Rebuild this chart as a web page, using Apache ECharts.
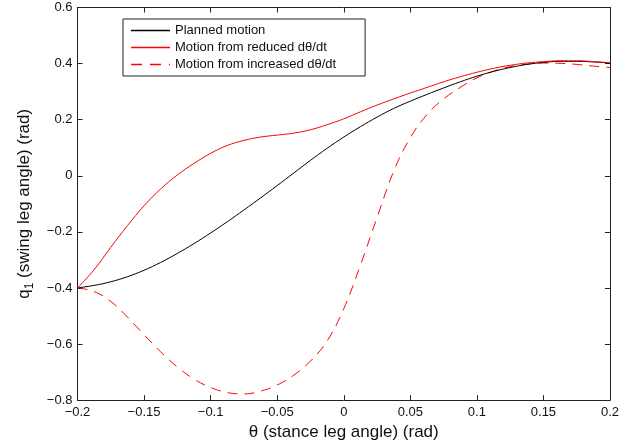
<!DOCTYPE html>
<html>
<head>
<meta charset="utf-8">
<script src="https://cdn.jsdelivr.net/npm/echarts@6/dist/echarts.min.js"></script>
<style>html,body{margin:0;padding:0;background:#fff;}#c{width:628px;height:446px;}</style>
</head>
<body>
<div id="c"></div>
<script>
// theta values (rad)
var theta = [-0.2,-0.1875,-0.175,-0.1625,-0.15,-0.1375,-0.125,-0.1125,-0.1,-0.0875,-0.075,-0.0625,-0.05,-0.0375,-0.025,-0.0125,0,0.0125,0.025,0.0375,0.05,0.0625,0.075,0.0875,0.1,0.1125,0.125,0.1375,0.15,0.1625,0.175,0.1875,0.2];
// Planned motion
var q1Planned = [-0.4,-0.391,-0.378,-0.360,-0.337,-0.309,-0.277,-0.242,-0.204,-0.164,-0.122,-0.079,-0.035,0.010,0.055,0.098,0.138,0.175,0.209,0.240,0.266,0.290,0.313,0.335,0.355,0.372,0.386,0.397,0.404,0.408,0.408,0.406,0.402];
// Motion from reduced dθ/dt
var q1Reduced = [-0.4,-0.335,-0.255,-0.178,-0.107,-0.047,0.003,0.044,0.080,0.108,0.126,0.138,0.145,0.152,0.164,0.182,0.203,0.228,0.252,0.274,0.295,0.315,0.335,0.353,0.369,0.383,0.394,0.402,0.407,0.410,0.410,0.407,0.403];
// Motion from increased dθ/dt
var q1Increased = [-0.4,-0.413,-0.448,-0.504,-0.567,-0.628,-0.682,-0.725,-0.755,-0.773,-0.778,-0.768,-0.746,-0.711,-0.661,-0.589,-0.474,-0.319,-0.149,0.016,0.136,0.218,0.274,0.315,0.349,0.373,0.389,0.398,0.402,0.401,0.397,0.391,0.386];
var xTicks = [-0.2,-0.15,-0.1,-0.05,0,0.05,0.1,0.15,0.2];
var yTicks = [-0.8,-0.6,-0.4,-0.2,0,0.2,0.4,0.6];
var seriesNames = ['Planned motion','Motion from reduced d\u03b8/dt','Motion from increased d\u03b8/dt'];
var seriesColors = ['#000000','#ff0000','#ff0000'];
var seriesDash = ['solid','solid',[10,7]];

var ICON_SOLID = 'path://M0,0H39V1.6H0Z';
var ICON_DASH = 'path://M0,0H11V1.6H0Z M19,0H30V1.6H19Z M38,0H39V1.6H38Z';

function pairs(ys){ return theta.map(function(t,i){ return [t, ys[i]]; }); }
function fmt(v){ var s = String(Math.round(v*1000)/1000); return s.replace('-', '\u2212'); }

var FONT = '"Liberation Sans", Arial, Helvetica, sans-serif';
var chart = echarts.init(document.getElementById('c'), null, {renderer:'canvas'});
var axLine = {show:true, onZero:false, lineStyle:{color:'#222', width:1}};
var tick = {show:true, inside:true, length:5, lineStyle:{color:'#222', width:1}};
chart.setOption({
  animation:false,
  backgroundColor:'#fff',
  grid:{left:77.5, right:18, top:7.5, bottom:42.5, containLabel:false},
  legend:{
    orient:'vertical', left:123, top:19,
    backgroundColor:'#fff', borderColor:'#222', borderWidth:1, borderRadius:0,
    padding:[5,29,5,8], itemWidth:39, itemHeight:14, itemGap:4,
    textStyle:{fontFamily:FONT, fontSize:13, color:'#111'},
    data:seriesNames.map(function(n,i){
      return {name:n, icon:(i===2 ? ICON_DASH : ICON_SOLID),
              itemStyle:{color:seriesColors[i], borderWidth:0, opacity:1}};
    })
  },
  xAxis:[{
    type:'value', min:-0.2, max:0.2, interval:0.05, position:'bottom',
    axisLine:axLine, axisTick:tick, splitLine:{show:false},
    axisLabel:{fontFamily:FONT, fontSize:13, color:'#111', margin:6, formatter:fmt},
    name:'\u03b8 (stance leg angle) (rad)', nameLocation:'middle', nameGap:21,
    nameTextStyle:{fontFamily:FONT, fontSize:17, color:'#111'}
  },{
    type:'value', min:-0.2, max:0.2, interval:0.05, position:'top',
    axisLine:axLine, axisTick:tick, axisLabel:{show:false}, splitLine:{show:false}
  }],
  yAxis:[{
    type:'value', min:-0.8, max:0.6, interval:0.2, position:'left',
    axisLine:axLine, axisTick:tick, splitLine:{show:false},
    axisLabel:{fontFamily:FONT, fontSize:13, color:'#111', margin:5, formatter:fmt},
    name:'{m|q}{s|1}{m| (swing leg angle) (rad)}', nameLocation:'middle', nameGap:42, nameRotate:90,
    nameTextStyle:{fontFamily:FONT, fontSize:17, color:'#111',
      rich:{m:{fontFamily:FONT, fontSize:17, color:'#111', lineHeight:22},
            s:{fontFamily:FONT, fontSize:12, color:'#111', lineHeight:12, verticalAlign:'bottom'}}}
  },{
    type:'value', min:-0.8, max:0.6, interval:0.2, position:'right',
    axisLine:axLine, axisTick:tick, axisLabel:{show:false}, splitLine:{show:false}
  }],
  series:[{
    name:seriesNames[0], type:'line', data:pairs(q1Planned), smooth:0.4, symbol:'none',
    lineStyle:{color:seriesColors[0], width:1, type:seriesDash[0]}, itemStyle:{color:seriesColors[0]}, z:3
  },{
    name:seriesNames[1], type:'line', data:pairs(q1Reduced), smooth:0.4, symbol:'none',
    lineStyle:{color:seriesColors[1], width:1, type:seriesDash[1]}, itemStyle:{color:seriesColors[1]}, z:4
  },{
    name:seriesNames[2], type:'line', data:pairs(q1Increased), smooth:0.4, symbol:'none',
    lineStyle:{color:seriesColors[2], width:1, type:seriesDash[2]}, itemStyle:{color:seriesColors[2]}, z:2
  }]
});
</script>
</body>
</html>
